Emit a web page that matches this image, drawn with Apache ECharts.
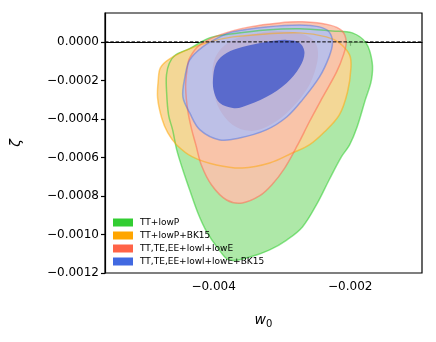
<!DOCTYPE html>
<html>
<head>
<meta charset="utf-8">
<script src="https://cdn.jsdelivr.net/npm/echarts@6/dist/echarts.min.js"></script>
<style>
  html, body { margin: 0; padding: 0; background: #fff; }
  #chart { width: 436px; height: 342px; }
</style>
</head>
<body>
<div id="chart"></div>
<script>
// legend names
const seriesNames = ['TT+lowP', 'TT+lowP+BK15', 'TT,TE,EE+lowl+lowE', 'TT,TE,EE+lowl+lowE+BK15'];

// tick values
const xTicks = [-0.004, -0.002];
const yTicks = [0, -0.0002, -0.0004, -0.0006, -0.0008, -0.0010, -0.0012];

// axis ranges
const xRange = [-0.00559, -0.00095];
const yRange = [-0.0012, 0.00015];

// zeta = 0 reference line
const zeroLine = [[xRange[0], 0], [xRange[1], 0]];

// contour outlines [w0, zeta]
const greenOuter = [
  [-0.00406, 0.000021], [-0.00372, 0.000042], [-0.00323, 0.000062], [-0.00274, 0.000068],
  [-0.00226, 0.000057], [-0.00197, 0.000047], [-0.00177, -0.000005], [-0.00168, -0.000104],
  [-0.00169, -0.000197], [-0.00178, -0.000301], [-0.0019, -0.000442], [-0.00201, -0.000535],
  [-0.00213, -0.000597], [-0.00231, -0.000717], [-0.00248, -0.000836], [-0.0027, -0.000961],
  [-0.00293, -0.001029], [-0.00318, -0.00108], [-0.00347, -0.001117], [-0.00377, -0.001133],
  [-0.00394, -0.00107], [-0.0041, -0.000987], [-0.00423, -0.000888], [-0.00435, -0.000769],
  [-0.00445, -0.000665], [-0.00454, -0.000561], [-0.0046, -0.000457], [-0.00466, -0.000379],
  [-0.00469, -0.000249], [-0.00469, -0.000171], [-0.00465, -0.000112], [-0.00456, -0.000068],
  [-0.00436, -0.000036]
];
const orangeOuter = [
  [-0.00478, -0.000135], [-0.00466, -0.000092], [-0.00439, -0.0000416], [-0.00406, 0],
  [-0.00372, 0.000026], [-0.00323, 0.0000416], [-0.00274, 0.0000468], [-0.00235, 0.000026],
  [-0.00216, -0.000005], [-0.00201, -0.0000675], [-0.00199, -0.000135], [-0.00204, -0.00026],
  [-0.00216, -0.000379], [-0.00238, -0.000468], [-0.0026, -0.000535], [-0.00285, -0.000577],
  [-0.00318, -0.000629], [-0.00358, -0.000655], [-0.00396, -0.000639], [-0.00431, -0.000597],
  [-0.00454, -0.000535], [-0.00467, -0.000473], [-0.00476, -0.000395], [-0.00482, -0.000291],
  [-0.00481, -0.000197]
];
const redOuter = [
  [-0.00435, -0.000083], [-0.0042, -0.0000156], [-0.00391, 0.0000364], [-0.00347, 0.0000779],
  [-0.00304, 0.0000987], [-0.0027, 0.000104], [-0.00231, 0.0000883], [-0.00212, 0.0000571],
  [-0.00206, 0], [-0.0021, -0.0000675], [-0.0022, -0.000156], [-0.00241, -0.000291],
  [-0.0026, -0.000416], [-0.00277, -0.000535], [-0.00296, -0.000655], [-0.00315, -0.000743],
  [-0.00333, -0.0008], [-0.00358, -0.000836], [-0.00381, -0.000821], [-0.00403, -0.000743],
  [-0.00418, -0.000639], [-0.00426, -0.000535], [-0.00432, -0.000457], [-0.00438, -0.000353],
  [-0.00441, -0.000234], [-0.00439, -0.000145]
];
const redInner = [
  [-0.00399, -0.0000935], [-0.00377, 0], [-0.00333, 0.0000468], [-0.00289, 0.000052],
  [-0.0026, 0.000026], [-0.00248, -0.0000312], [-0.0025, -0.00013], [-0.00264, -0.000249],
  [-0.00293, -0.000369], [-0.00323, -0.000442], [-0.00347, -0.000462], [-0.00372, -0.000431],
  [-0.00391, -0.000353], [-0.004, -0.000249]
];
const blueOuter = [
  [-0.00391, 0.000026], [-0.00372, 0.000052], [-0.00323, 0.0000779], [-0.00274, 0.0000883],
  [-0.00245, 0.0000779], [-0.00231, 0.000052], [-0.00226, -0.000005], [-0.00231, -0.0000779],
  [-0.00245, -0.000182], [-0.0027, -0.000301], [-0.00293, -0.00039], [-0.00323, -0.000457],
  [-0.00362, -0.000499], [-0.00391, -0.000509], [-0.0042, -0.000457], [-0.00435, -0.000369],
  [-0.00445, -0.000286], [-0.00442, -0.000182], [-0.00435, -0.0000935], [-0.00416, -0.000026]
];
const blueInner = [
  [-0.00396, -0.000109], [-0.00381, -0.0000571], [-0.00358, -0.000026], [-0.00323, 0],
  [-0.00293, 0.0000104], [-0.00274, -0.0000052], [-0.00267, -0.0000571], [-0.00274, -0.00013],
  [-0.00293, -0.000213], [-0.00323, -0.000286], [-0.00358, -0.000338], [-0.00372, -0.000343],
  [-0.00391, -0.000317], [-0.00399, -0.000265], [-0.00401, -0.000197]
];

const legendColors = ['#32cd32', '#ffa500', '#ff6347', '#4169e1'];

// fill / line styles per contour level, in drawing order
const layers = [
  { s: 0, pts: greenOuter, fill: 'rgba(154,226,146,0.8)', stroke: 'rgba(50,205,50,0.55)' },
  { s: 1, pts: orangeOuter, fill: 'rgba(251,213,149,0.9)', stroke: 'rgba(255,165,0,0.5)' },
  { s: 2, pts: redOuter, fill: 'rgba(249,194,172,0.9)', stroke: 'rgba(255,99,71,0.5)' },
  { s: 2, pts: redInner, fill: 'rgba(249,141,101,0.9)', stroke: null },
  { s: 3, pts: blueOuter, fill: 'rgba(168,191,252,0.75)', stroke: 'rgba(65,105,225,0.45)' },
  { s: 3, pts: blueInner, fill: 'rgba(90,106,204,1)', stroke: null }
];

const font = 'DejaVu Sans';

const fmtY = v => (v < 0 ? '\u2212' : '') + Math.abs(v).toFixed(4);
const fmtX = v => (v < 0 ? '\u2212' : '') + Math.abs(v).toFixed(3);

/**
 * 画一个数据集的等高线
 */
const makeSeries = (idx) => ({
  name: seriesNames[idx],
  type: 'custom',
  itemStyle: { color: legendColors[idx] },
  data: layers.find(l => l.s === idx).pts,
  encode: { x: 0, y: 1 },
  silent: true,
  renderItem: (params, api) => {
    if (params.dataIndex !== 0) return null;
    const children = [];
    layers.forEach((l, order) => {
      if (l.s !== idx) return;
      const points = l.pts.map(p => api.coord(p));
      children.push({
        type: 'polygon',
        z2: order,
        shape: { points: points, smooth: 0.35 },
        style: { fill: l.fill, stroke: null }
      });
      if (l.stroke) {
        children.push({
          type: 'polygon',
          z2: 100 + order,
          shape: { points: points, smooth: 0.35 },
          style: { fill: null, stroke: l.stroke, lineWidth: 1.5 }
        });
      }
    });
    return { type: 'group', children: children };
  }
});

const chart = echarts.init(document.getElementById('chart'));

chart.setOption({
  animation: false,
  textStyle: { fontFamily: font },
  grid: {
    left: 105, right: 14, top: 13, bottom: 69,
    show: true, borderColor: '#000', borderWidth: 1.2, backgroundColor: 'transparent'
  },
  legend: {
    orient: 'vertical',
    left: 113,
    top: 218,
    padding: 0,
    icon: 'rect',
    itemWidth: 20,
    itemHeight: 8,
    itemGap: 4,
    data: seriesNames,
    selectedMode: false,
    textStyle: { fontFamily: font, fontSize: 9, color: '#000', padding: [0, 0, 0, 2] }
  },
  xAxis: {
    type: 'value',
    min: xRange[0],
    max: xRange[1],
    name: '{w|w}{s|0}',
    nameLocation: 'middle',
    nameGap: 38,
    nameTextStyle: {
      rich: {
        w: { fontFamily: font, fontSize: 14, fontStyle: 'italic', color: '#000' },
        s: { fontFamily: font, fontSize: 10, color: '#000', padding: [8, 0, 0, 0] }
      }
    },
    axisLine: { show: true, lineStyle: { color: '#000', width: 1.2 } },
    axisTick: { show: true, length: 4, lineStyle: { color: '#000', width: 1.2 }, customValues: xTicks },
    axisLabel: { customValues: xTicks, formatter: fmtX, fontSize: 12, color: '#000', margin: 8, fontFamily: font },
    splitLine: { show: false }
  },
  yAxis: {
    type: 'value',
    min: yRange[0],
    max: yRange[1],
    name: '\u03b6',
    nameLocation: 'middle',
    nameGap: 82,
    nameRotate: 90,
    nameTextStyle: { fontFamily: font, fontSize: 14, fontStyle: 'italic', color: '#000' },
    axisLine: { show: true, lineStyle: { color: '#000', width: 1.2 } },
    axisTick: { show: true, length: 4, lineStyle: { color: '#000', width: 1.2 }, customValues: yTicks },
    axisLabel: { customValues: yTicks, formatter: fmtY, fontSize: 12, color: '#000', margin: 6, fontFamily: font },
    splitLine: { show: false }
  },
  series: [
    makeSeries(0),
    makeSeries(1),
    makeSeries(2),
    makeSeries(3),
    {
      // zeta = 0 参考线
      type: 'line',
      data: zeroLine,
      z: 10,
      silent: true,
      symbol: 'none',
      lineStyle: { color: '#000', type: [3.5, 1.8], width: 1 }
    }
  ]
});
</script>
</body>
</html>
